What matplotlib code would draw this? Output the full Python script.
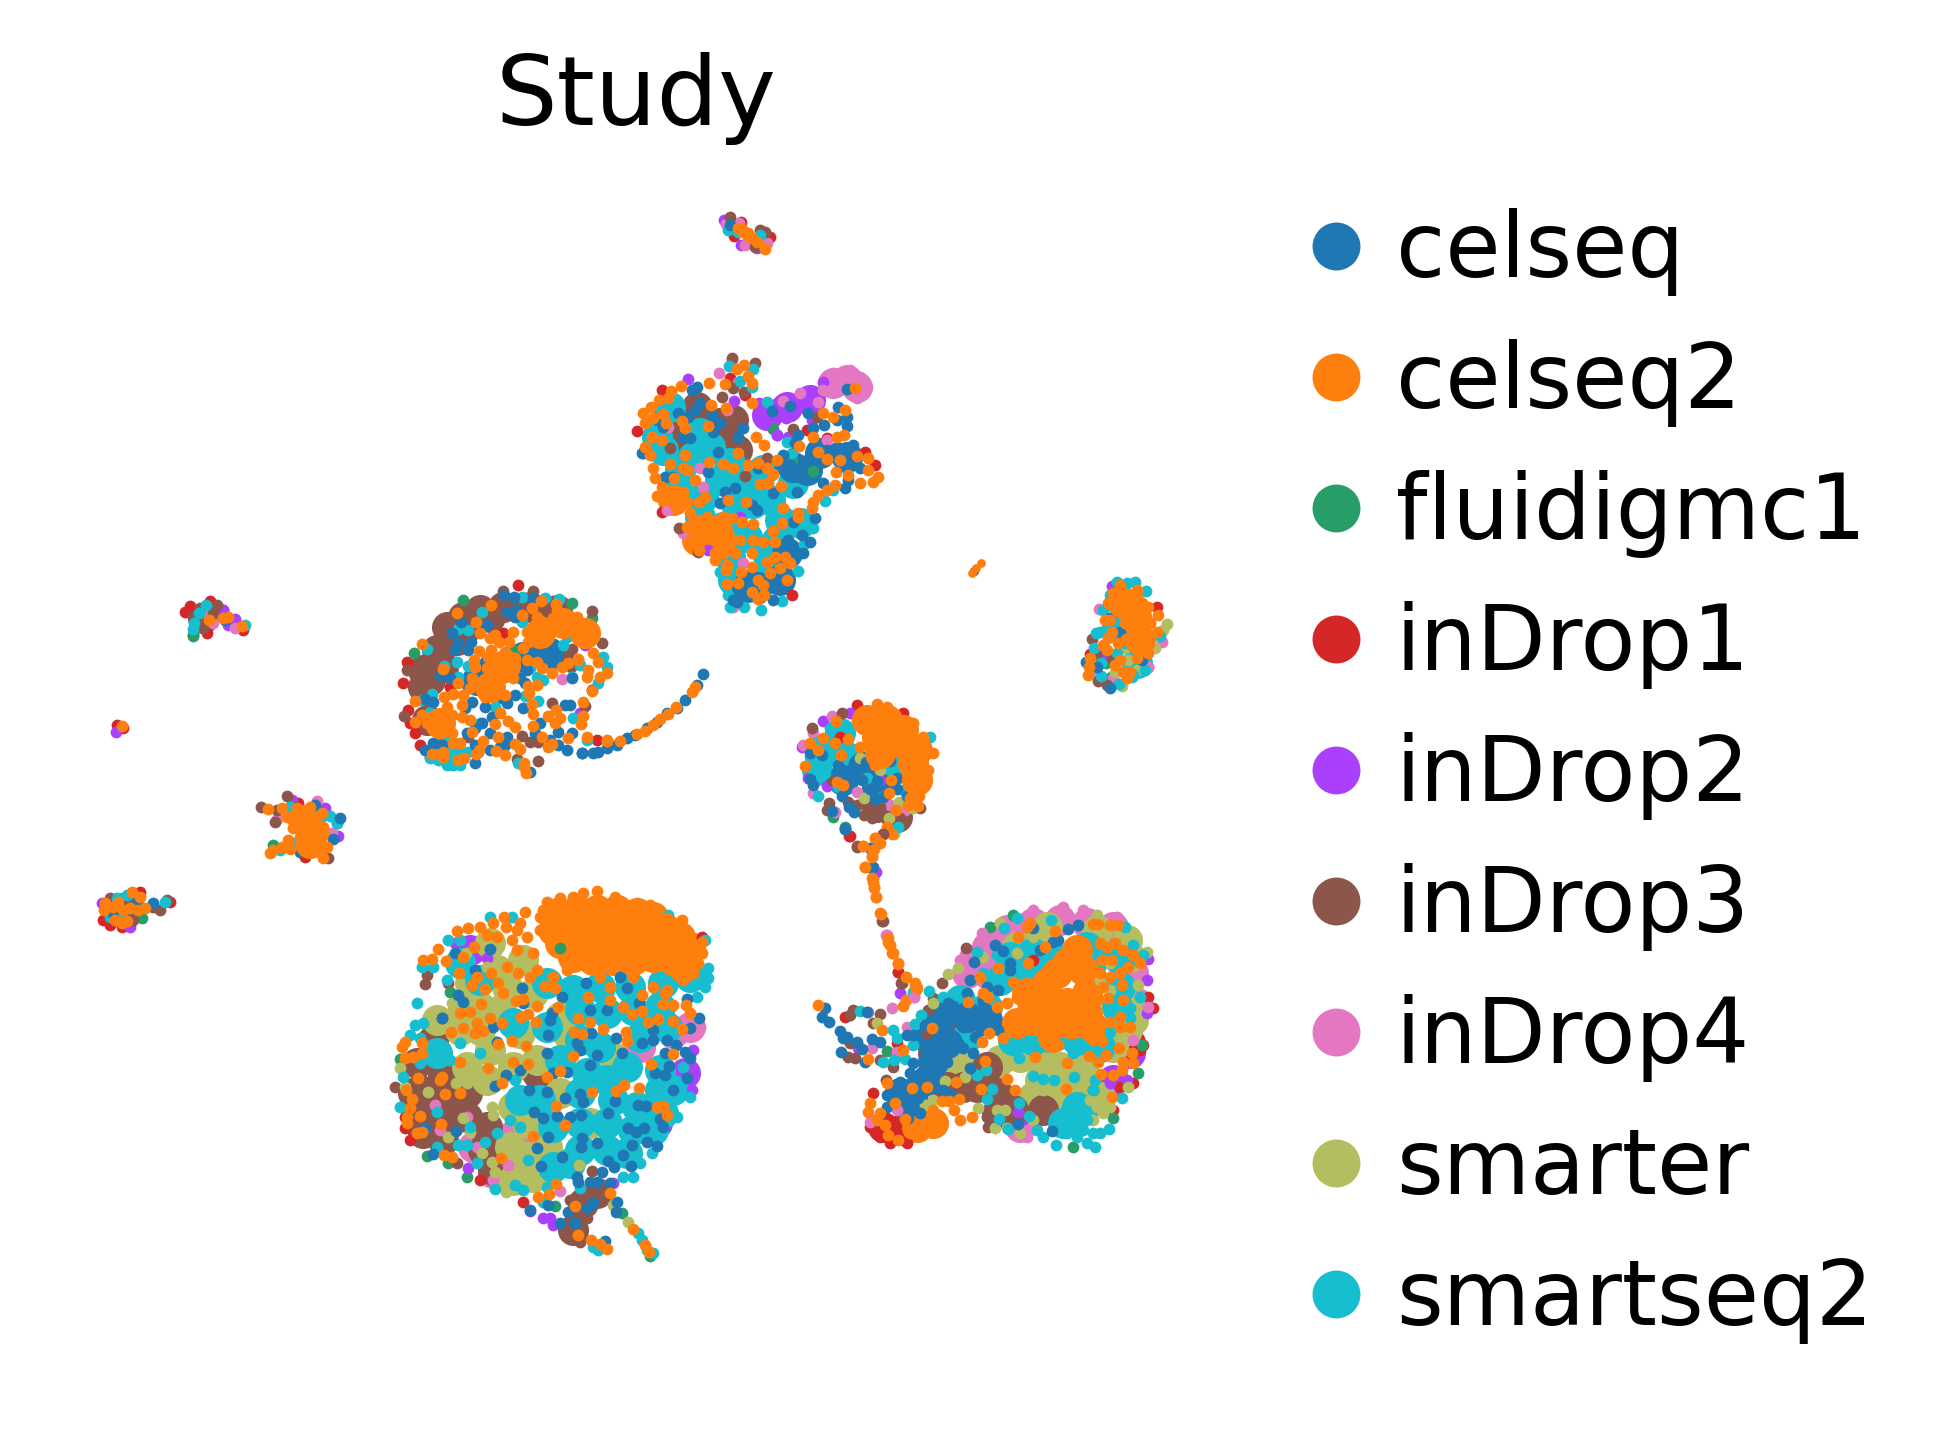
import numpy as np
import matplotlib
matplotlib.use('Agg')
import matplotlib.pyplot as plt
from matplotlib.lines import Line2D

studies = ['celseq', 'celseq2', 'fluidigmc1', 'inDrop1', 'inDrop2', 'inDrop3', 'inDrop4', 'smarter', 'smartseq2']
colors = ['#1f77b4', '#ff7f0e', '#279e68', '#d62728', '#aa40fc', '#8c564b', '#e377c2', '#b5bd61', '#17becf']

# points, one list per study per island (x3 local units of each island)
# "dense" lists are patches where so many cells overlap that only one colour shows

# --- big island bottom left
low_dense_pink = [(930,500),(780,560),(640,640),(440,830),(390,830),(340,940),(280,860),(180,800),(500,780),(880,520)]
low_dense_purple = [(915,640),(270,270),(830,790)]
low_dense_brown = [(120,690),(120,760),(130,820),(190,650),(190,720),(190,790),(190,840),(260,700),(260,770),(320,800),(310,870),(470,640),(610,1030),(580,1110),(650,1000),(340,930),(160,540),(110,610),(400,950),(100,700)]
low_dense_olive = [(250,440),(360,450),(240,510),(330,570),(420,520),(400,740),(440,790),(390,860),(460,950),(440,890),(470,600),(560,520),(700,590),(630,790),(400,960),(540,470),(270,370),(300,440),(350,330),(430,300),(460,400),(380,380),(300,510),(400,620),(320,660),(500,860),(540,700),(170,480),(330,250),(260,620)]
low_dense_teal = [(500,370),(580,390),(660,380),(750,380),(850,370),(930,350),(600,450),(680,460),(760,450),(840,440),(600,540),(660,560),(740,620),(840,630),(840,690),(880,690),(600,700),(700,720),(770,740),(850,760),(600,790),(680,790),(760,810),(820,810),(600,870),(680,870),(740,880),(520,920),(570,910),(480,720),(420,720),(400,490),(620,640),(240,310),(300,360),(680,660),(540,600),(520,800),(500,500),(780,530),(860,500),(170,580)]
low_dense_orange = [(530,160),(590,150),(650,150),(710,150),(770,160),(820,170),(520,210),(560,200),(620,190),(680,190),(740,190),(800,200),(860,210),(900,230),(540,250),(600,240),(660,250),(720,250),(780,260),(840,250),(900,260),(930,260),(580,290),(640,300),(700,300),(760,300),(820,290),(880,300),(920,300),(910,320)]
low_red = [(300,960),(430,1025),(75,770),(75,805),(205,370),(965,230),(90,840)]
low_green = [(262,950),(525,1037),(725,1060),(60,598),(210,395),(540,265),(205,910),(140,888),(810,1188)]
low_purple = [(510,1075),(490,1075),(520,1095),(450,1052),(700,970),(265,925),(320,295),(225,250),(935,690),(940,570)]
low_pink = [(540,992),(165,735),(262,770),(385,915),(180,810),(960,500),(340,960),(290,860)]
low_brown = [(140,345),(135,372),(635,932),(620,1075),(185,475),(232,910),(45,680),(600,1145),(580,1130),(560,1110),(570,1020)]
low_olive = [(745,1085),(700,1035),(60,625),(75,680),(205,830),(270,815),(250,775),(335,740),(338,765),(228,670),(262,670),(145,695),(345,935),(378,995),(598,915),(305,880),(335,905),(215,430),(258,280),(320,320)]
low_teal = [(110,430),(105,495),(128,490),(90,525),(120,535),(180,560),(210,600),(150,590),(120,610),(70,650),(60,740),(125,322),(160,320),(205,240),(240,240),(330,170),(395,170),(865,165),(975,240),(985,325),(985,355),(975,380),(950,410),(200,360),(260,320),(240,550),(300,580),(270,800),(350,820),(315,845),(260,855),(235,855),(170,860),(290,910),(345,988),(405,975),(445,900),(500,980),(430,990),(600,985),(760,950),(730,950),(780,910),(815,880),(890,770),(930,710),(910,620),(405,660),(390,780),(420,800),(170,755),(775,1120),(785,1140),(800,1170),(820,1180),(490,1025),(655,1170),(640,1160)]
low_blue = [(225,280),(285,330),(235,405),(250,425),(330,268),(425,385),(428,430),(340,500),(350,545),(378,645),(345,678),(420,630),(500,580),(505,525),(510,480),(515,460),(545,410),(618,368),(630,450),(680,450),(740,385),(720,350),(778,430),(820,510),(820,540),(785,548),(708,535),(632,520),(590,550),(600,570),(650,585),(630,615),(725,580),(855,580),(888,555),(915,575),(930,595),(930,505),(958,475),(920,418),(862,540),(880,690),(920,655),(855,645),(866,618),(825,638),(560,635),(520,640),(448,690),(500,695),(555,715),(600,702),(610,725),(705,722),(775,735),(798,737),(462,755),(488,775),(532,767),(570,770),(603,765),(685,758),(745,803),(792,805),(768,815),(850,800),(840,778),(802,846),(832,858),(755,855),(730,885),(685,902),(703,922),(753,917),(652,848),(605,835),(603,860),(505,832),(470,865),(545,890),(482,918),(590,950),(595,965),(630,965),(650,965),(665,935),(690,970),(712,1027),(708,1055),(620,1045),(640,1030),(565,1055),(450,1050),(503,1035),(540,1090),(585,1090),(675,1142),(228,812),(135,805),(160,882),(185,475)]
low_orange = [(373,170),(436,155),(175,268),(130,300),(155,298),(230,212),(265,205),(300,200),(340,190),(378,200),(420,190),(410,210),(395,240),(410,270),(440,230),(460,280),(320,225),(350,230),(282,260),(248,292),(197,302),(236,340),(290,352),(275,375),(315,387),(355,370),(370,400),(333,338),(380,320),(415,338),(450,350),(495,378),(525,385),(470,437),(408,423),(430,418),(303,433),(240,460),(270,455),(330,473),(250,503),(290,490),(285,520),(310,512),(213,515),(365,490),(423,470),(445,462),(467,487),(533,440),(595,473),(625,410),(630,487),(582,515),(607,522),(670,507),(690,420),(730,440),(755,463),(785,405),(785,453),(835,476),(805,487),(855,400),(850,432),(880,435),(917,435),(930,458),(880,483),(905,507),(737,517),(740,542),(880,582),(812,612),(580,587),(540,632),(502,650),(443,612),(400,607),(437,557),(395,543),(353,553),(323,625),(240,605),(125,548),(125,580),(75,545),(65,560),(75,595),(100,590),(115,655),(185,650),(180,660),(365,668),(635,695),(708,692),(732,675),(778,683),(830,742),(850,738),(860,765),(527,737),(555,795),(460,827),(363,895),(193,885),(217,890),(183,792),(125,815),(110,820),(120,768),(80,790),(90,745),(80,770),(97,717),(77,690),(240,700),(195,702),(527,972),(475,1012),(507,1002),(585,1038),(690,998),(760,1107),(595,1125),(633,1140),(660,1152),(680,1167),(795,1155),(808,1175),(520,350),(560,330),(660,350),(690,380),(760,350),(820,380),(860,390),(910,360),(940,340),(480,170),(470,330),(500,125),(540,115),(580,110),(610,100),(650,92),(705,112),(770,130),(810,135),(860,175),(905,180),(965,245),(965,280),(955,310),(490,150),(480,210)]

# --- big island bottom right
lr_dense_pink = [(520,240),(560,200),(620,150),(700,130),(780,120),(860,130),(940,140),(500,280),(1000,280),(1010,370),(990,490),(700,700),(430,560),(680,170),(560,280),(660,740)]
lr_dense_purple = [(940,600),(990,520),(800,720),(660,690)]
lr_dense_olive = [(650,200),(740,140),(890,150),(980,180),(990,230),(720,600),(780,560),(850,560),(700,650),(780,650),(560,600),(480,560),(660,530),(900,650),(990,380),(1000,420),(940,500),(830,620),(720,180),(980,450),(600,540),(620,660),(720,520)]
lr_dense_red = [(250,740),(300,750),(990,490)]
lr_dense_brown = [(420,470),(400,520),(590,640),(590,700),(640,690),(730,690),(530,620),(440,620),(560,560),(470,460),(490,620)]
lr_dense_teal = [(600,300),(650,280),(780,240),(960,240),(880,240),(830,480),(750,470),(830,680),(790,730),(850,690),(960,320),(630,230),(720,280),(560,380),(640,480),(700,480),(900,500),(950,380),(700,220),(860,200),(500,470),(480,360)]
lr_dense_blue = [(420,410),(500,410),(400,545),(340,700),(380,600),(300,640),(440,490),(560,420),(340,640),(380,470)]
lr_dense_orange = [(740,370),(800,370),(860,340),(860,400),(700,420),(760,420),(820,430),(880,440),(740,310),(800,250),(700,380),(350,740),(400,730),(680,340),(650,430),(830,210),(770,280),(850,270),(760,470)]
lr_red = [(135,410),(295,277),(1045,350),(1060,385),(1030,495),(1020,510),(220,640),(1000,610),(880,630),(940,690),(960,620),(210,740),(240,770),(270,790),(320,790),(290,490),(700,240)]
lr_green = [(262,512),(570,140),(640,105),(1015,580),(940,715),(820,800),(1025,495)]
lr_purple = [(300,340),(1040,300),(1045,238),(1040,400),(980,600),(930,610),(175,505),(655,695)]
lr_pink = [(275,383),(343,352),(260,165),(205,395),(320,440),(215,505),(290,515),(210,725),(290,690),(1000,480),(545,160),(680,770),(1045,380),(700,90),(790,80),(850,90),(950,110),(480,240)]
lr_brown = [(247,124),(305,310),(240,403),(160,390),(150,405),(150,490),(145,530),(165,535),(240,540),(258,600),(425,308),(400,355),(498,205),(385,390),(380,460),(280,560),(220,430),(565,740),(600,690),(560,710)]
lr_olive = [(445,283),(475,265),(550,230),(650,220),(600,130),(700,170),(230,430),(400,370),(535,685),(400,660),(375,675),(435,603),(495,590),(985,622),(930,680),(620,745),(585,745),(590,690),(615,690),(660,760),(730,630),(700,720),(1015,315),(890,105),(1040,215),(870,660),(890,680),(910,700),(880,720),(900,300),(930,250),(930,330)]
lr_teal = [(180,392),(280,450),(290,475),(250,545),(283,540),(315,538),(345,432),(340,495),(362,405),(387,333),(430,352),(470,345),(532,215),(612,143),(652,115),(752,120),(675,195),(590,225),(610,300),(565,290),(550,280),(975,140),(1000,195),(1030,225),(1020,350),(990,385),(990,415),(930,455),(820,520),(790,490),(640,510),(658,535),(530,585),(557,570),(575,628),(560,658),(598,718),(625,747),(658,670),(688,708),(698,587),(728,597),(762,600),(822,590),(830,670),(885,600),(880,630),(965,655),(928,748),(885,800),(768,795),(860,790),(800,685),(770,715),(710,750),(730,770),(340,335),(800,760),(830,770),(850,750),(880,760),(900,760),(820,730),(860,720)]
lr_blue = [(75,385),(65,410),(88,426),(120,452),(140,470),(130,475),(170,485),(215,478),(240,485),(123,515),(185,508),(195,545),(200,397),(320,465),(340,465),(375,435),(395,420),(430,395),(445,370),(460,378),(490,400),(515,405),(550,370),(575,430),(595,450),(545,450),(525,470),(490,440),(510,300),(500,340),(522,247),(585,195),(610,212),(630,250),(630,270),(595,330),(560,320),(550,360),(700,145),(805,147),(835,135),(775,180),(760,185),(720,210),(490,505),(520,520),(510,565),(430,490),(380,515),(420,530),(440,545),(390,540),(340,550),(330,580),(365,575),(300,605),(295,630),(320,655),(355,655),(260,645),(260,680),(428,630),(455,645),(340,690),(360,700),(325,715),(655,733),(755,753),(475,490)]
lr_orange = [(53,375),(318,290),(345,315),(347,330),(318,360),(310,378),(295,250),(277,220),(265,185),(260,170),(228,50),(222,25),(218,5),(241,100),(247,450),(397,443),(310,510),(205,538),(262,608),(335,623),(382,622),(468,607),(543,628),(620,597),(645,630),(797,627),(935,652),(904,582),(940,585),(965,570),(895,547),(918,525),(995,520),(968,545),(1000,550),(957,505),(868,528),(800,548),(705,530),(555,543),(545,487),(568,460),(608,473),(775,494),(905,484),(880,480),(685,250),(593,265),(540,292),(640,307),(550,340),(565,350),(505,365),(592,382),(622,368),(652,353),(630,425),(660,395),(735,200),(765,152),(655,172),(690,130),(680,140),(880,132),(895,132),(930,135),(955,135),(945,190),(970,210),(1000,225),(1020,250),(985,260),(960,280),(965,315),(970,360),(925,355),(960,410),(930,425),(960,440),(990,440),(425,662),(447,662),(477,657),(400,690),(315,716),(517,710),(462,690),(480,720),(210,670),(205,695),(240,700),(230,720),(255,735),(285,670),(265,765),(295,780),(330,760),(900,190),(920,200),(905,240),(935,240),(900,280),(910,320),(895,360),(930,290)]

# --- island top centre
up_dense_pink = [(680,120),(640,130),(710,140)]
up_dense_purple = [(440,225),(570,180),(500,200)]
up_dense_brown = [(310,310),(170,300),(340,240),(230,200),(140,240),(200,260),(300,250),(350,330)]
up_dense_teal = [(150,200),(240,280),(130,330),(270,320),(180,390),(300,420),(250,470),(380,440),(450,480),(520,430),(400,490),(480,540),(350,500),(540,550),(440,640),(330,650),(110,290),(170,450),(220,350),(330,370),(430,390),(240,530),(310,560),(380,590),(470,600),(420,710),(340,720),(470,700)]
up_dense_blue = [(480,720),(380,740),(500,640),(520,380),(600,340),(680,350),(560,390),(410,740)]
up_dense_orange = [(240,570),(290,570),(230,600),(300,600),(160,480)]
up_red = [(125,150),(52,272),(127,517),(330,115),(375,165),(735,335),(765,375),(515,765),(620,295),(560,270)]
up_green = [(460,268),(470,284),(578,393),(515,360)]
up_purple = [(205,118),(342,182),(418,188),(435,250),(497,233),(470,190),(570,165),(610,125),(575,240),(505,290),(470,285),(265,630),(360,530)]
up_pink = [(296,100),(335,60),(490,183),(540,160),(595,185),(610,150),(640,100),(690,90),(720,110),(740,140),(710,175),(665,120),(620,300),(240,385),(250,440),(340,800),(370,670),(145,260),(140,510),(190,580),(320,210),(355,125)]
up_brown = [(335,55),(405,70),(373,157),(340,145),(305,170),(518,267),(590,232),(177,563),(375,407),(235,635),(440,355),(340,255),(150,325)]
up_teal = [(328,78),(398,88),(360,122),(397,142),(442,185),(300,695),(325,765),(372,800),(422,810),(485,782),(535,692),(580,565),(553,612),(615,483),(640,450),(500,305),(515,340),(330,800)]
up_blue = [(230,140),(215,150),(240,190),(225,210),(275,225),(175,220),(205,230),(115,240),(130,260),(65,338),(190,290),(210,295),(280,275),(355,290),(370,265),(300,250),(455,212),(510,197),(565,218),(612,255),(650,240),(680,258),(680,232),(655,200),(680,148),(580,265),(535,285),(525,310),(650,320),(700,315),(620,330),(640,340),(675,380),(720,385),(685,420),(675,445),(490,345),(480,385),(510,375),(545,410),(530,455),(460,460),(415,385),(395,495),(410,510),(315,455),(345,445),(295,335),(265,395),(300,490),(610,430),(340,780),(350,785),(420,775),(460,780),(505,600),(550,640),(570,605),(545,585),(520,545),(585,535),(160,410),(135,410),(70,340)]
up_orange = [(350,88),(372,75),(385,108),(396,130),(268,128),(315,133),(183,138),(152,153),(145,175),(118,180),(93,200),(68,220),(75,250),(100,235),(130,222),(137,248),(185,242),(195,265),(263,257),(273,195),(395,190),(318,205),(125,300),(95,290),(75,320),(90,345),(100,385),(105,415),(125,440),(150,372),(162,413),(195,345),(190,385),(205,390),(225,420),(110,467),(135,480),(165,460),(190,455),(165,495),(200,485),(210,520),(238,487),(255,470),(325,480),(377,487),(268,365),(310,372),(340,385),(355,340),(385,375),(415,370),(440,385),(458,403),(420,432),(445,430),(484,438),(470,360),(408,292),(432,315),(537,318),(580,290),(610,218),(638,230),(675,210),(705,145),(650,292),(672,285),(593,335),(622,358),(660,360),(712,348),(745,355),(745,390),(775,410),(720,430),(760,425),(648,395),(685,405),(645,435),(620,450),(595,465),(575,505),(580,485),(535,520),(533,530),(490,505),(365,545),(398,553),(487,550),(458,573),(465,605),(400,600),(430,605),(360,600),(345,640),(395,640),(440,665),(465,650),(495,650),(510,670),(480,685),(450,700),(430,735),(500,720),(415,720),(395,680),(320,675),(317,690),(363,697),(355,730),(320,733),(395,757),(415,778),(433,765),(238,630),(285,640),(285,660),(310,640),(210,600),(200,560),(260,530),(310,530),(335,535)]

# --- crescent island
cres_dense_brown = [(170,170),(220,140),(270,120),(340,110),(420,110),(140,240),(100,300),(100,350),(160,290),(230,170),(300,140),(110,450),(200,210),(120,330),(500,120)]
cres_dense_teal = [(170,540)]
cres_dense_blue = [(310,290),(400,260),(260,330),(480,250)]
cres_dense_orange = [(450,190),(520,160),(585,190),(345,285),(300,350),(150,460)]
cres_red = [(385,45),(50,275),(40,340),(55,420),(60,460),(75,490),(90,525),(340,190),(605,360),(620,510),(180,350)]
cres_green = [(72,250),(545,100),(605,145),(370,240),(220,90)]
cres_purple = [(570,430),(585,225)]
cres_pink = [(517,327)]
cres_brown = [(42,438),(605,123),(635,218),(545,237),(535,258),(543,290),(485,400),(585,407),(395,497),(420,515),(445,515),(382,568),(445,572),(235,500),(120,560),(50,300),(340,62),(430,62)]
cres_teal = [(110,238),(163,287),(200,275),(233,180),(205,178),(277,126),(397,157),(395,80),(465,85),(508,88),(125,372),(95,390),(120,425),(203,320),(233,287),(420,293),(440,320),(460,330),(405,378),(445,392),(315,410),(550,445),(545,320),(570,285),(640,260),(650,290),(625,340),(520,225),(590,510),(385,578),(120,565),(145,570),(170,585),(190,585),(210,585),(230,545),(270,460),(530,200)]
cres_blue = [(342,75),(372,80),(430,85),(350,125),(378,120),(375,140),(292,165),(212,155),(187,190),(205,220),(195,240),(243,215),(233,240),(150,315),(180,325),(230,345),(105,387),(128,395),(245,395),(225,415),(285,410),(335,385),(350,400),(375,375),(400,415),(405,340),(390,325),(410,300),(505,280),(547,325),(525,405),(540,405),(305,440),(275,460),(255,475),(300,490),(350,500),(345,525),(330,530),(255,525),(265,545),(300,540),(128,520),(155,525),(105,540),(230,490),(450,460),(435,490),(480,510),(503,485),(505,525),(530,540),(545,490),(575,550),(575,550),(610,548),(625,545),(650,535),(680,525),(710,505),(735,495),(770,475),(800,455),(830,430),(860,415),(885,390),(920,345),(940,313),(420,605),(255,578),(480,250),(490,240)]
cres_orange = [(302,105),(200,130),(257,157),(397,135),(452,92),(425,113),(497,103),(500,120),(440,140),(460,155),(490,145),(525,150),(560,140),(575,160),(600,185),(565,190),(520,180),(480,185),(440,190),(410,185),(368,187),(315,195),(300,205),(327,215),(270,190),(358,217),(415,215),(445,215),(400,235),(268,243),(303,240),(295,262),(345,245),(350,270),(325,270),(375,265),(410,270),(440,275),(455,295),(485,310),(515,290),(535,280),(565,270),(610,250),(625,275),(595,300),(590,320),(630,320),(650,310),(95,222),(252,270),(255,290),(160,298),(290,295),(245,325),(205,340),(240,355),(290,345),(320,345),(345,320),(370,325),(285,380),(345,375),(220,375),(190,373),(162,382),(75,392),(215,405),(170,410),(185,435),(95,435),(75,455),(112,458),(150,450),(135,480),(215,440),(240,450),(245,485),(185,490),(330,428),(355,452),(375,472),(315,462),(325,500),(425,402),(430,432),(475,437),(498,420),(510,445),(495,458),(430,468),(455,500),(580,395),(580,437),(573,462),(535,503),(590,500),(650,512),(690,513),(740,493),(765,482),(790,465),(810,448),(835,432),(857,410),(905,365),(915,352),(605,362),(415,348),(440,345),(418,370),(375,522),(390,538),(475,530),(485,523),(280,512),(268,540),(258,552),(318,544),(345,554),(210,518),(190,520),(160,545),(125,553),(160,560),(205,570),(222,565),(403,580),(407,610),(402,590),(563,268),(650,510)]

# --- round island in the middle, with its tail
mid_dense_teal = [(110,240),(160,180),(340,240),(180,130),(130,190),(200,200),(300,250)]
mid_dense_brown = [(290,350),(350,380)]
mid_dense_blue = [(190,270),(290,290),(250,230)]
mid_dense_orange = [(260,90),(320,90),(370,120),(290,140),(370,160),(410,180),(400,220),(410,270),(300,190)]
mid_red = [(232,45),(208,437),(370,70),(180,140)]
mid_green = [(160,382),(195,412)]
mid_purple = [(130,92),(65,170),(140,288),(85,265),(210,70),(300,270)]
mid_pink = [(100,130),(155,78),(70,165),(98,308),(232,307),(330,345),(375,360),(165,365)]
mid_brown = [(97,113),(185,70),(148,338),(140,360),(232,345),(253,375),(275,385),(275,350),(300,350),(320,390),(360,385),(310,432),(420,355),(232,468),(155,270),(205,335)]
mid_olive = [(240,205),(300,240),(248,270),(253,325),(357,335),(400,355),(328,385),(343,432)]
mid_teal = [(150,115),(110,155),(155,190),(90,200),(100,240),(135,250),(115,318),(175,290),(260,265),(350,190),(450,140),(355,412),(305,320),(350,230),(370,300)]
mid_blue = [(90,190),(125,195),(175,225),(170,245),(90,268),(100,285),(186,318),(215,262),(228,237),(245,270),(290,272),(258,215),(330,212),(352,265),(352,298),(270,298),(285,328),(310,320),(380,318),(207,350),(222,367),(157,362),(194,418),(278,532)]
mid_orange = [(168,92),(90,160),(115,180),(130,145),(165,158),(75,228),(184,196),(205,148),(240,172),(285,225),(172,277),(190,285),(333,270),(327,310),(418,318),(390,325),(385,345),(413,348),(348,360),(320,412),(335,432),(285,444),(298,458),(283,478),(277,498),(250,468),(256,530),(278,565),(380,250),(440,190),(290,42),(320,50),(230,90),(400,100),(430,140),(460,190),(445,240)]
tail_purple = [(107,155)]
tail_pink = [(139,344),(222,530)]
tail_brown = [(128,304),(52,80),(128,42),(183,490)]
tail_blue = [(97,145),(90,85),(14,28)]
tail_red = [(175,457),(30,47)]
tail_orange = [(122,281),(76,140),(97,175),(101,200),(108,232),(143,355),(150,375),(158,400),(175,432),(198,470),(225,490),(230,505),(105,55),(120,70),(100,90),(97,110),(70,78)]

# --- small islands on the left
left_dense_brown = [(370,115),(130,985)]
left_dense_teal = [(690,720)]
left_dense_orange = [(670,720),(700,760),(690,790)]
left_red = [(330,78),(315,97),(390,62),(340,165),(380,160),(488,150),(430,90),(70,1020),(90,1035),(125,1040),(180,935),(270,965),(130,445),(110,435),(655,670),(675,830)]
left_green = [(340,168),(580,795),(185,1015)]
left_purple = [(108,455),(445,135),(465,118),(430,90),(635,660),(735,683),(775,768),(65,970),(150,1040)]
left_pink = [(400,130),(385,100),(465,145),(710,662),(590,716),(755,760)]
left_brown = [(360,85),(410,75),(340,110),(370,145),(400,100),(360,125),(542,680),(620,648),(585,725),(590,690),(645,680),(745,835),(770,730),(90,955),(100,1010),(160,1020),(240,990),(260,960),(220,980),(85,985)]
left_teal = [(377,75),(358,100),(343,130),(340,148),(495,135),(630,680),(750,708),(770,730),(600,810),(640,790),(255,967),(110,955),(140,945),(90,1010),(125,1000)]
left_blue = [(780,715),(760,778),(660,815),(715,800),(435,120),(218,970),(100,1000),(175,960),(705,675)]
left_orange = [(125,437),(388,120),(430,113),(445,110),(485,138),(563,688),(605,685),(650,685),(690,680),(725,700),(620,710),(660,720),(700,720),(730,740),(640,745),(680,750),(720,770),(660,770),(700,790),(680,815),(740,800),(720,815),(730,835),(625,780),(605,800),(630,808),(580,810),(570,820),(157,935),(180,950),(115,965),(75,970),(72,990),(100,980),(130,990),(150,985),(175,990),(195,983),(105,1020),(125,1028),(140,1022)]

# --- small island on the right
right_dense_teal = [(140,200),(200,310),(150,120)]
right_dense_orange = [(160,130),(200,180),(210,240)]
right_red = [(260,140),(60,282)]
right_green = [(108,308),(123,352)]
right_purple = [(125,78),(100,282),(235,320)]
right_pink = [(87,147),(275,245),(130,355),(80,340),(235,322)]
right_brown = [(65,237),(125,295),(78,285),(85,362),(110,375)]
right_olive = [(290,192),(255,265),(165,265),(175,300),(135,335),(155,378),(200,330),(280,210)]
right_teal = [(142,65),(170,70),(196,65),(228,92),(120,105),(100,150),(78,220),(90,215),(72,265),(92,310),(92,347),(148,373),(270,228),(225,330),(190,345),(165,250),(140,280),(205,120),(185,350)]
right_blue = [(120,383),(47,307),(140,150),(150,215),(120,175),(170,130),(215,300),(80,320)]
right_orange = [(150,75),(130,100),(115,130),(105,180),(120,180),(155,115),(200,90),(200,110),(185,140),(215,130),(235,140),(165,160),(190,180),(220,170),(165,190),(205,210),(240,190),(260,215),(210,240),(235,240),(205,270),(235,280),(200,295),(265,165),(125,215),(115,235),(100,255),(112,270),(145,250),(167,237),(150,300),(135,315),(60,295),(58,320),(55,345),(158,335),(180,335),(170,355)]

# --- tiny island at the top, and the speck next to the right island
top_red = [(92,65),(180,110),(72,108)]
top_purple = [(42,60),(92,135),(140,145)]
top_pink = [(48,72),(88,70),(170,128),(105,135)]
top_brown = [(60,52),(150,90),(165,95),(135,140)]
top_teal = [(55,90),(85,95),(150,105)]
top_blue = [(60,75)]
top_orange = [(85,85),(100,95),(110,105),(125,115),(140,125),(166,146),(95,88),(115,100)]
speck_blue = [(974,571)]
speck_orange = [(972,573),(976,568),(981,563)]

# study index, then points; order inside an island is the painting order
low_layers = [(6,low_dense_pink,1),(4,low_dense_purple,1),(5,low_dense_brown,1),(7,low_dense_olive,1),(8,low_dense_teal,1),(1,low_dense_orange,1),
              (3,low_red,0),(2,low_green,0),(4,low_purple,0),(6,low_pink,0),(5,low_brown,0),(7,low_olive,0),(8,low_teal,0),(0,low_blue,0),(1,low_orange,0)]
lr_layers = [(6,lr_dense_pink,1),(4,lr_dense_purple,1),(3,lr_dense_red,1),(7,lr_dense_olive,1),(5,lr_dense_brown,1),(8,lr_dense_teal,1),(0,lr_dense_blue,1),(1,lr_dense_orange,1),
             (3,lr_red,0),(2,lr_green,0),(4,lr_purple,0),(6,lr_pink,0),(5,lr_brown,0),(7,lr_olive,0),(8,lr_teal,0),(0,lr_blue,0),(1,lr_orange,0)]
up_layers = [(6,up_dense_pink,1),(4,up_dense_purple,1),(5,up_dense_brown,1),(8,up_dense_teal,1),(0,up_dense_blue,1),(1,up_dense_orange,1),
             (3,up_red,0),(2,up_green,0),(4,up_purple,0),(6,up_pink,0),(5,up_brown,0),(8,up_teal,0),(0,up_blue,0),(1,up_orange,0)]
cres_layers = [(5,cres_dense_brown,1),(8,cres_dense_teal,1),(0,cres_dense_blue,1),
               (3,cres_red,0),(2,cres_green,0),(4,cres_purple,0),(6,cres_pink,0),(5,cres_brown,0),(8,cres_teal,0),(0,cres_blue,0),(1,cres_dense_orange,1),(1,cres_orange,0)]
mid_layers = [(8,mid_dense_teal,1),(5,mid_dense_brown,1),(0,mid_dense_blue,1),
              (3,mid_red,0),(2,mid_green,0),(4,mid_purple,0),(6,mid_pink,0),(5,mid_brown,0),(7,mid_olive,0),(8,mid_teal,0),(0,mid_blue,0),(1,mid_dense_orange,1),(1,mid_orange,0)]
tail_layers = [(4,tail_purple,0),(6,tail_pink,0),(5,tail_brown,0),(3,tail_red,0),(0,tail_blue,0),(1,tail_orange,0)]
left_layers = [(5,left_dense_brown,1),(8,left_dense_teal,1),(3,left_red,0),(2,left_green,0),(4,left_purple,0),(6,left_pink,0),(5,left_brown,0),(8,left_teal,0),(0,left_blue,0),(1,left_dense_orange,1),(1,left_orange,0)]
right_layers = [(8,right_dense_teal,1),(3,right_red,0),(2,right_green,0),(4,right_purple,0),(6,right_pink,0),(5,right_brown,0),(7,right_olive,0),(8,right_teal,0),(0,right_blue,0),(1,right_dense_orange,1),(1,right_orange,0)]
top_layers = [(3,top_red,0),(4,top_purple,0),(6,top_pink,0),(5,top_brown,0),(8,top_teal,0),(0,top_blue,0),(1,top_orange,0)]

islands = [((380,860),low_layers),((800,880),lr_layers),((620,340),up_layers),((390,570),cres_layers),
           ((780,690),mid_layers),((840,820),tail_layers),((80,580),left_layers),((1070,560),right_layers),((710,200),top_layers)]

fig = plt.figure(figsize=(19.56,14.29), dpi=100)
ax = fig.add_axes([0,0,1,1])

order = 0
for (x0,y0),layers in islands:
    for idx,pts,dense in layers:
        pts = np.array(pts,dtype=float)
        ax.scatter(x0+pts[:,0]/3, y0+pts[:,1]/3, s=500 if dense else 72, c=colors[idx], linewidths=0, zorder=2+order*0.01)
        order += 1
ax.scatter(*zip(*speck_blue), s=45, c=colors[0], linewidths=0, zorder=1)
ax.scatter(*zip(*speck_orange), s=40, c=colors[1], linewidths=0, zorder=1.5)

ax.set_xlim(0,1956)
ax.set_ylim(1429,0)
ax.axis('off')
ax.text(636,125,'Study',fontsize=70,ha='center',va='baseline')

handles = [Line2D([],[],marker='o',ls='',color=c,markersize=34.5,markeredgewidth=0) for c in colors]
ax.legend(handles,studies,frameon=False,loc='upper left',bbox_to_anchor=(1291/1956,1-208/1429),
          bbox_transform=fig.transFigure,fontsize=64.5,labelspacing=0.48,handletextpad=0.17,handlelength=1.0,
          borderpad=0,borderaxespad=0,numpoints=1)

fig.savefig('out.png',dpi=100)
